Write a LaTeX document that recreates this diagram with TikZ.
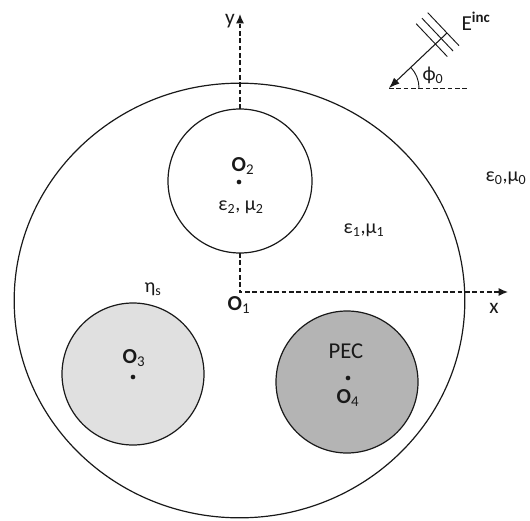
\documentclass[tikz,border=0pt]{standalone}
\usepackage{fontspec}
\setmainfont{Carlito}
\usetikzlibrary{arrows.meta,calc,shapes.geometric}
\definecolor{ScatInk}{RGB}{25,25,25}
\definecolor{ScatLight}{RGB}{224,224,224}
\definecolor{ScatDark}{RGB}{180,180,180}
\tikzset{
  scat/host/.style={
    ellipse,
    draw=ScatInk,
    line width=0.9pt,
    inner sep=0pt,
    outer sep=0pt,
    minimum width=338pt,
    minimum height=326pt
  },
  scat/region/.style={
    circle,
    draw=ScatInk,
    line width=0.9pt,
    inner sep=0pt,
    outer sep=0pt,
    minimum size=106.5pt
  },
  scat/axis/.style={-{Latex[length=7pt,width=6pt]}, dash pattern=on 3.5pt off 2pt, line width=0.9pt, draw=ScatInk},
  scat/guide/.style={dash pattern=on 3.5pt off 2pt, line width=0.7pt, draw=ScatInk},
  scat/wave/.style={-{Latex[length=8pt,width=6pt]}, line width=0.8pt, draw=ScatInk},
  scat/front/.style={line width=0.7pt, draw=ScatInk},
  scat/dot/.style={circle, fill=ScatInk, inner sep=0pt, minimum size=3.5pt},
  scat/label/.style={font=\fontsize{15}{17}\selectfont, text=ScatInk, inner sep=1pt},
  scat/axislabel/.style={font=\fontsize{16}{18}\selectfont, text=ScatInk, inner sep=1pt},
  scat/origin/.style={font=\fontsize{16}{18}\selectfont, text=ScatInk, inner sep=1pt}
}

\begin{document}
\begin{tikzpicture}[x=0.75pt,y=-0.75pt]
  \useasboundingbox (0,0) rectangle (530,520);
  % regions
  \node[scat/host] (host) at (239.5,300.5) {};
  \node[scat/region,minimum size=108pt] (c2) at (240,181) {};
  \node[scat/region,fill=ScatLight] (c3) at (133,374) {};
  \node[scat/region,fill=ScatDark] (c4) at (347,382) {};
  \node[scat/dot] (d2) at (239,182) {};
  \node[scat/dot] (d3) at (133,377) {};
  \node[scat/dot] (d4) at (348,378) {};
  % axes
  \coordinate (o1) at (240,292);
  \coordinate (ytip) at (240,14);
  \coordinate (xtip) at (508,292);
  \draw[scat/axis] (c2.north) -- (ytip);
  \draw[scat/axis] (c2.south) -- (o1) -- (xtip);
  \node[scat/axislabel] (ylab) at (230,21) {y};
  \node[scat/axislabel] (xlab) at (494,308) {x};
  % labels
  \node[scat/origin] (o1lab) at (239,305) {\textbf{O}\textsubscript{1}};
  \node[scat/origin] (o2lab) at (243,166) {\textbf{O}\textsubscript{2}};
  \node[scat/origin] (o3lab) at (134,358) {\textbf{O}\textsubscript{3}};
  \node[scat/origin] (o4lab) at (348,398) {\textbf{O}\textsubscript{4}};
  \node[scat/label] (eps2) at (241,207) {ε\textsubscript{2}, μ\textsubscript{2}};
  \node[scat/label] (eps1) at (364,230) {ε\textsubscript{1},μ\textsubscript{1}};
  \node[scat/label] (eps0) at (506,178) {ε\textsubscript{0},μ\textsubscript{0}};
  \node[scat/label] (etas) at (153,289) {η\textsubscript{s}};
  \node[scat/label,font=\fontsize{17}{19}\selectfont] (pec) at (346,351) {PEC};
  % incident wave
  \coordinate (einc) at (447,33);
  \coordinate (etip) at (389,88);
  \coordinate (eref) at (468,88);
  \draw[scat/wave] (einc) -- (etip);
  \foreach \d in {0,6,12}{
    \coordinate (wf) at ($(einc)!\d pt!(etip)$);
    \draw[scat/front] ($(wf)!21pt!-90:(etip)$) -- ($(wf)!13pt!90:(etip)$);
  }
  \draw[scat/guide] (etip) -- (eref);
  \draw[scat/front] (etip) ++(22.5pt,0) arc[start angle=0,end angle=44,radius=22.5pt];
  \node[scat/label] (phi) at (433,75) {ϕ\textsubscript{0}};
  \node[scat/axislabel] (elab) at (476,21) {E\textsuperscript{\textbf{inc}}};
\end{tikzpicture}
\end{document}
